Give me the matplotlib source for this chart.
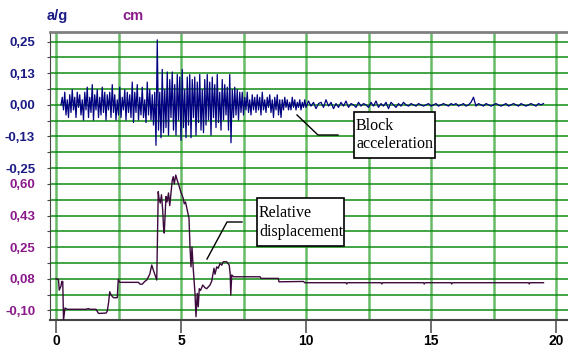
import numpy as np
import matplotlib
matplotlib.use("Agg")
import matplotlib.pyplot as plt
from matplotlib.lines import Line2D
from matplotlib.patches import Rectangle

# block acceleration (g), 0.20 s .. 9.95 s every 0.05 s
acc_t1 = np.arange(0.20, 9.99, 0.05)
acc_v1 = [
    0.00, 0.03, -0.02, 0.05, -0.04, 0.02, -0.05, 0.04, -0.03, 0.06, -0.02, 0.03, -0.05, 0.05, -0.01, 0.04,
    -0.04, 0.02, -0.06, 0.05, -0.02, 0.07, -0.05, 0.03, -0.03, 0.08, -0.06, 0.04, -0.02, 0.06, -0.05, 0.03, -0.04, 0.07, -0.03, 0.05,
    -0.06, 0.04, -0.02, 0.05, -0.05, 0.08, -0.03, 0.04, -0.06, 0.02, -0.04, 0.07, -0.05, 0.03, -0.02, 0.06, -0.06, 0.05, -0.03, 0.04,
    -0.05, 0.09, -0.07, 0.05, -0.03, 0.08, -0.06, 0.03, -0.04, 0.07, -0.05, 0.02, -0.07, 0.09, -0.04, 0.06, -0.06, 0.04, -0.08, 0.05,
    -0.16, 0.257, -0.10, 0.05, -0.13, 0.14, -0.11, 0.06, -0.09, 0.13, -0.12, 0.10, -0.05, 0.13, -0.10, 0.08, -0.12, 0.12, -0.06, 0.11,
    -0.14, 0.14, -0.09, 0.06, -0.13, 0.11, -0.08, 0.12, -0.13, 0.10, -0.05, 0.11, -0.12, 0.09, -0.07, 0.12, -0.10, 0.06, -0.11, 0.10,
    -0.08, 0.12, -0.06, 0.09, -0.12, 0.11, -0.05, 0.08, -0.09, 0.12, -0.07, 0.05, -0.10, 0.10, -0.06, 0.08, -0.04, 0.07, -0.10, 0.12,
    -0.15, 0.06, -0.05, 0.07, -0.04, 0.06, -0.06, 0.05, -0.03, 0.05, -0.04, 0.03, -0.02, 0.05, -0.03, 0.02, -0.04, 0.04, -0.02, 0.03,
    -0.03, 0.04, -0.02, 0.03, -0.04, 0.05, -0.02, 0.02, -0.03, 0.03, -0.01, 0.04, -0.03, 0.02, -0.05, 0.03, -0.02, 0.04, -0.04, 0.02,
    -0.05, 0.02, -0.02, 0.03, -0.01, 0.02, -0.02, 0.01, -0.02, 0.03, -0.01, 0.02, -0.02, 0.01, -0.01, 0.02, -0.02, 0.01, -0.01, 0.02,
]
# quieter tail, 10.0 s .. 19.5 s every 0.1 s
acc_t2 = np.arange(10.0, 19.55, 0.1)
acc_v2 = [
    -0.01, 0.015, -0.005, 0.01, -0.015, 0.005, 0.01, -0.01, 0.02, -0.005,
    0.01, -0.015, 0.005, -0.01, 0.01, -0.005, 0.015, -0.01, 0.005, 0.0,
    -0.01, 0.01, -0.005, 0.005, 0.0, -0.01, 0.01, -0.005, 0.015, -0.01,
    0.005, -0.005, 0.01, -0.015, 0.01, 0.0, -0.01, 0.005, -0.005, 0.01,
    0.0, -0.005, 0.005, 0.0, -0.005, 0.005, 0.0, -0.005, 0.0, 0.005,
    -0.005, 0.0, 0.005, -0.005, 0.0, 0.005, 0.0, -0.005, 0.005, 0.0,
    0.005, -0.005, 0.0, 0.005, -0.005, 0.0, 0.01, 0.03, -0.005, 0.005,
    0.0, -0.005, 0.005, 0.0, -0.005, 0.0, 0.005, 0.0, -0.005, 0.0,
    0.005, -0.005, 0.0, 0.005, 0.0, -0.005, 0.005, 0.0, -0.005, 0.0,
    0.005, 0.0, -0.005, 0.005, 0.0, 0.005,
]
acc_t = np.concatenate([acc_t1, acc_t2])
acc_v = np.array(acc_v1 + acc_v2)

# relative displacement (cm)
disp_t = [0.00, 0.10, 0.13, 0.20, 0.23, 0.27, 0.30, 0.36, 0.45, 1.20, 1.30, 1.35, 1.60, 1.70,
          2.00, 2.05, 2.10, 2.15, 2.20, 2.30, 2.45, 2.49, 2.55, 3.30, 3.36, 3.45, 3.55, 3.63,
          3.75, 3.83, 3.90, 3.95, 4.03, 4.09, 4.12, 4.17, 4.22, 4.27, 4.30, 4.33, 4.40, 4.44,
          4.50, 4.55, 4.65, 4.69, 4.73, 4.79, 4.85, 4.92, 4.99, 5.09, 5.13, 5.18, 5.25, 5.32,
          5.36, 5.40, 5.44, 5.49, 5.56, 5.60, 5.65, 5.69, 5.73, 5.78, 5.87, 5.96, 6.03, 6.16,
          6.23, 6.32, 6.36, 6.43, 6.49, 6.56, 6.63, 6.69, 6.83, 6.93, 6.97, 6.99, 7.03, 7.10,
          8.16, 8.20, 8.89, 8.92, 9.90, 9.95, 11.60, 11.63, 11.66, 13.0, 13.03, 13.06,
          14.70, 14.73, 14.76, 15.80, 15.83, 15.86, 18.90, 18.93, 18.96, 19.50]
disp_v = [0.075, 0.070, 0.012, 0.035, 0.060, 0.060, -0.154, -0.087, -0.094, -0.094, -0.090, -0.094, -0.094, -0.117,
          -0.115, -0.105, -0.060, 0.003, -0.015, -0.030, -0.030, 0.072, 0.055, 0.055, 0.045, 0.045, 0.060, 0.068,
          0.100, 0.151, 0.120, 0.100, 0.068, 0.557, 0.520, 0.494, 0.540, 0.450, 0.363, 0.328, 0.530, 0.500,
          0.550, 0.480, 0.620, 0.640, 0.600, 0.649, 0.620, 0.590, 0.557, 0.520, 0.490, 0.500, 0.455, 0.410,
          0.252, 0.141, 0.250, 0.130, -0.006, -0.135, -0.006, -0.080, 0.020, 0.010, 0.040, 0.025, 0.020, 0.040,
          0.063, 0.133, 0.100, 0.141, 0.133, 0.160, 0.150, 0.169, 0.169, 0.150, 0.096, -0.015, 0.096, 0.086,
          0.086, 0.077, 0.077, 0.058, 0.060, 0.053, 0.053, 0.046, 0.053, 0.053, 0.046, 0.053,
          0.053, 0.046, 0.053, 0.053, 0.046, 0.053, 0.053, 0.046, 0.053, 0.053]

acc_ticks = [0.25, 0.125, 0.0, -0.125, -0.25]
acc_labels = ["0,25", "0,13", "0,00", "-0,13", "-0,25"]
disp_ticks = [0.6, 0.425, 0.25, 0.075, -0.1]
disp_labels = ["0,60", "0,43", "0,25", "0,08", "-0,10"]

NAVY = "#1b1b84"
PURPLE = "#8a1a8a"
W, H = 568, 352


def fx(x):
    return x / W


def fy(y):
    return 1 - y / H


fig = plt.figure(figsize=(W / 100, H / 100), dpi=100)
ax = fig.add_axes([fx(50), fy(320), fx(575 - 50), (320 - 32) / H])
ax.set_xlim(-0.24, 20.76)
ax.set_ylim(-0.8506, 0.288)

# grid rows every 0.0625 g (18 rows), columns every 2.5 s
rows = [(k - 13) * 0.0625 for k in range(18)]
ax.set_yticks(rows)
ax.set_yticklabels([acc_labels[acc_ticks.index(r)] if r in acc_ticks else "" for r in rows])
ax.set_xticks([0, 5, 10, 15, 20])
ax.set_xticks([2.5, 7.5, 12.5, 17.5], minor=True)
ax.set_axisbelow(True)
ax.grid(axis="y", color="#128a12", lw=1.1)
ax.grid(axis="x", which="both", color="#66bb66", lw=1.8)
ax.tick_params(axis="y", length=2.2, color="#444444", pad=8.5, labelsize=9.5, labelcolor=NAVY)
ax.tick_params(axis="x", which="major", length=9.4, width=1.2, color="#555555", pad=1, labelsize=10)
ax.tick_params(axis="x", which="minor", length=0)
for lab in ax.get_yticklabels() + ax.get_xticklabels():
    lab.set_fontweight("bold")
    lab.set_fontfamily("Liberation Sans")
ax.spines["right"].set_visible(False)
ax.spines["top"].set_color("#808080")
ax.spines["top"].set_linewidth(2)
ax.spines["left"].set_color("#444444")
ax.spines["bottom"].set_color("#444444")
ax.spines["bottom"].set_linewidth(1.5)

ax.plot(acc_t, acc_v, color="#000080", lw=0.9)

ax2 = ax.twinx()
ax2.set_ylim(-0.1534, 1.441)
ax2.yaxis.set_ticks_position("left")
ax2.yaxis.set_label_position("left")
ax2.set_yticks(disp_ticks)
ax2.set_yticklabels(disp_labels)
ax2.tick_params(axis="y", length=0, pad=10.7, labelsize=9.5, labelcolor=PURPLE)
for lab in ax2.get_yticklabels():
    lab.set_fontweight("bold")
    lab.set_fontfamily("Liberation Sans")
for s in ax2.spines.values():
    s.set_visible(False)
ax2.plot(disp_t, disp_v, color="#3c0a3c", lw=1.0)

fig.text(fx(47), fy(16), "a/g", color=NAVY, fontsize=10.5, fontweight="bold",
         family="Liberation Sans", va="center")
fig.text(fx(122), fy(16), "cm", color=PURPLE, fontsize=10.5, fontweight="bold",
         family="Liberation Sans", va="center")

# callout boxes with leader lines
for (x0, y0, x1, y1), txt, lead in [
    ((354, 112, 435, 158), "Block\nacceleration", [(297, 115), (318, 135), (338, 135)]),
    ((257, 198, 344, 246), "Relative\ndisplacement", [(207, 259), (227, 222), (242, 222)]),
]:
    fig.add_artist(Rectangle((fx(x0), fy(y1)), fx(x1 - x0), (y1 - y0) / H,
                             transform=fig.transFigure, facecolor="white",
                             edgecolor="black", lw=1.2, zorder=5))
    fig.text(fx(x0 + 2), fy((y0 + y1) / 2), txt, fontsize=11.5, family="Liberation Serif",
             va="center", ha="left", linespacing=1.25, zorder=6)
    fig.add_artist(Line2D([fx(p[0]) for p in lead], [fy(p[1]) for p in lead],
                          color="black", lw=1.0, transform=fig.transFigure, zorder=5))

fig.savefig("out.png", dpi=100)
